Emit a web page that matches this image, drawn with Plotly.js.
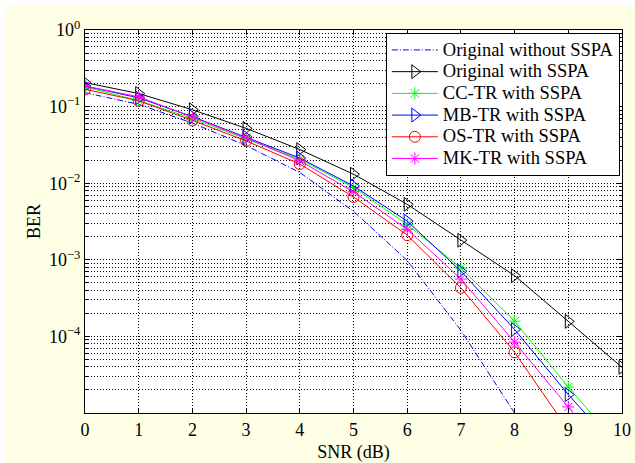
<!DOCTYPE html>
<html>
<head>
<meta charset="utf-8">
<script src="https://cdn.plot.ly/plotly-3.0.1.min.js"></script>
<style>
  html, body { margin: 0; padding: 0; background: #ffffff; }
  #chart { position: absolute; left: 5px; top: 5px; width: 630px; height: 458px; }
</style>
</head>
<body>
<div id="chart"></div>
<script>
// SNR values (dB)
const snr = [0, 1, 2, 3, 4, 5, 6, 7, 8, 9, 10];

// BER series
const berOriginalNoSSPA = [0.152, 0.107, 0.061, 0.031, 0.0138, 0.0043, 0.00098, 0.00012, 0.00001, 4e-7, 8e-9];
const berOriginalSSPA   = [0.206, 0.148, 0.091, 0.052, 0.0275, 0.0131, 0.0053, 0.0018, 0.00062, 0.000157, 0.0000395];
const berCCTR           = [0.180, 0.120, 0.070, 0.038, 0.0205, 0.0088, 0.0029, 0.00078, 0.000158, 0.0000218, 3.4e-6];
const berMBTR           = [0.185, 0.130, 0.074, 0.040, 0.0213, 0.0092, 0.0032, 0.00071, 0.000123, 0.0000174, 2.9e-6];
const berOSTR           = [0.168, 0.119, 0.066, 0.0357, 0.0178, 0.0066, 0.0021, 0.00043, 0.000062, 6e-6, 5e-7];
const berMKTR           = [0.186, 0.134, 0.073, 0.039, 0.0196, 0.0077, 0.0025, 0.00056, 0.000084, 0.000012, 1.7e-6];

const seriesNames = [
  "Original without SSPA",
  "Original with SSPA",
  "CC-TR with SSPA",
  "MB-TR with SSPA",
  "OS-TR with SSPA",
  "MK-TR with SSPA"
];

// Y axis tick labels
const yTickVals = [1e-4, 1e-3, 1e-2, 1e-1, 1];
const yTickText = ["10<sup>\u22124</sup>", "10<sup>\u22123</sup>", "10<sup>\u22122</sup>", "10<sup>\u22121</sup>", "10<sup>0</sup>"];
const xTickVals = [0, 1, 2, 3, 4, 5, 6, 7, 8, 9, 10];

// minor grid positions (2..9 x 10^k)
const yMinor = [];
for (let e = -5; e < 0; e++) {
  for (let m = 2; m <= 9; m++) yMinor.push(m * Math.pow(10, e));
}

const FONT = "'Liberation Serif', 'Times New Roman', serif";
const gridDash = "1px,2px";
// legend text drawn larger than the legend's own row height font
const legendName = (s) => '<span style="font-size:18.5px">' + s + '</span>';

const traces = [
  { x: snr, y: berOriginalNoSSPA, name: legendName(seriesNames[0]), mode: "lines",
    line: { color: "#0000ff", width: 1, dash: "6px,2px,1px,2px" } },
  { x: snr, y: berOriginalSSPA, name: legendName(seriesNames[1]), mode: "lines+markers",
    line: { color: "#000000", width: 1 },
    marker: { symbol: "triangle-right-open", size: 12, color: "#000000", line: { width: 1 } } },
  { x: snr, y: berCCTR, name: legendName(seriesNames[2]), mode: "lines+markers",
    line: { color: "#00ff00", width: 1 },
    marker: { symbol: "asterisk-open", size: 10, color: "#00ff00", line: { width: 1, color: "#00ff00" } } },
  { x: snr, y: berMBTR, name: legendName(seriesNames[3]), mode: "lines+markers",
    line: { color: "#0000ff", width: 1 },
    marker: { symbol: "triangle-right-open", size: 12, color: "#0000ff", line: { width: 1 } } },
  { x: snr, y: berOSTR, name: legendName(seriesNames[4]), mode: "lines+markers",
    line: { color: "#ff0000", width: 1 },
    marker: { symbol: "circle-open", size: 11, color: "#ff0000", line: { width: 1 } } },
  { x: snr, y: berMKTR, name: legendName(seriesNames[5]), mode: "lines+markers",
    line: { color: "#ff00ff", width: 1 },
    marker: { symbol: "asterisk-open", size: 10, color: "#ff00ff", line: { width: 1, color: "#ff00ff" } } }
];

const layout = {
  width: 630,
  height: 458,
  margin: { l: 80, r: 13, t: 25, b: 50 },
  paper_bgcolor: "#ffffe6",
  plot_bgcolor: "#ffffff",
  font: { family: FONT, size: 18, color: "#000000" },
  showlegend: true,
  legend: {
    x: 0.996, xanchor: "right", y: 0.992, yanchor: "top",
    bgcolor: "#ffffff", bordercolor: "#000000", borderwidth: 1,
    font: { family: FONT, size: 14.4, color: "#000000" },
    itemwidth: 46,
    tracegroupgap: 0
  },
  xaxis: {
    range: [0, 10],
    tickmode: "array", tickvals: xTickVals,
    ticks: "inside", ticklen: 5, tickcolor: "#000000",
    showline: true, linecolor: "#000000", linewidth: 1, mirror: "ticks",
    showgrid: true, gridcolor: "#000000", gridwidth: 1, griddash: gridDash,
    zeroline: false,
    tickfont: { family: FONT, size: 18 },
    title: { text: "SNR (dB)", font: { family: FONT, size: 18 }, standoff: 6 }
  },
  yaxis: {
    type: "log",
    range: [-5, 0],
    tickmode: "array", tickvals: yTickVals, ticktext: yTickText,
    ticks: "inside", ticklen: 5, tickcolor: "#000000",
    showline: true, linecolor: "#000000", linewidth: 1, mirror: "ticks",
    showgrid: true, gridcolor: "#000000", gridwidth: 1, griddash: gridDash,
    zeroline: false,
    tickfont: { family: FONT, size: 18 },
    minor: { tickmode: "array", tickvals: yMinor, ticks: "inside", ticklen: 3, tickcolor: "#000000",
             showgrid: true, gridcolor: "#000000", gridwidth: 1, griddash: gridDash },
    title: { text: "BER", font: { family: FONT, size: 18 }, standoff: 3 }
  }
};

Plotly.newPlot("chart", traces, layout, { displayModeBar: false, staticPlot: true });
</script>
</body>
</html>
